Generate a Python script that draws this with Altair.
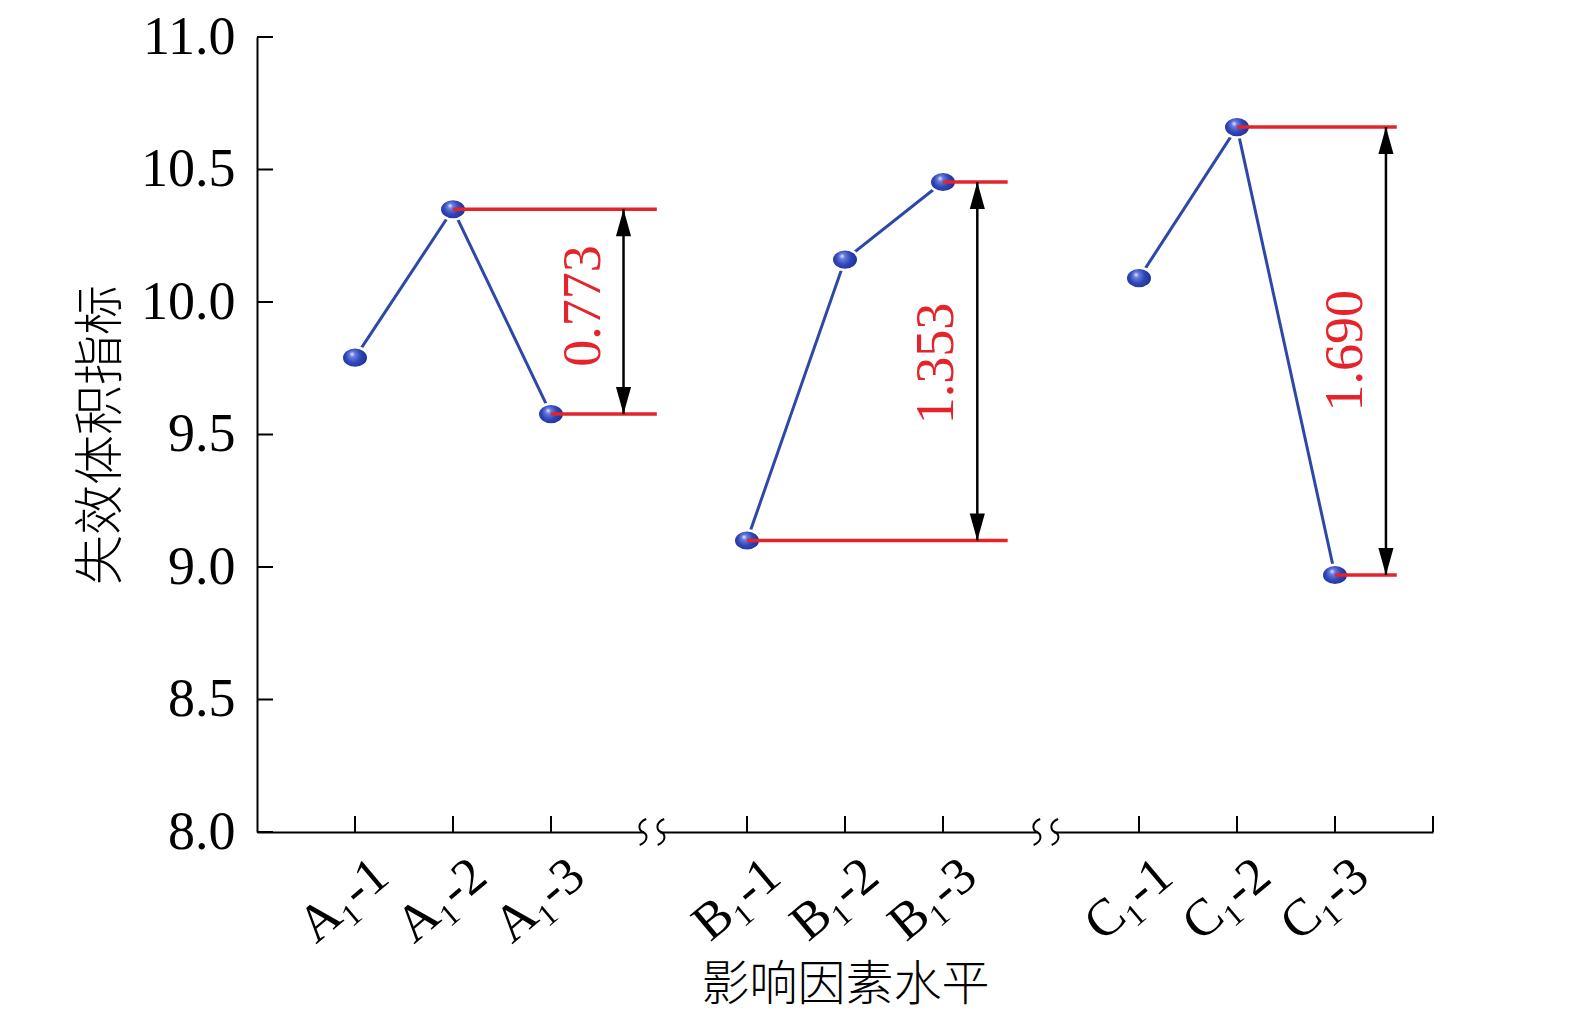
import altair as alt
import pandas as pd

# ---- data ----
labels = ["A₁-1", "A₁-2", "A₁-3", "B₁-1", "B₁-2", "B₁-3", "C₁-1", "C₁-2", "C₁-3"]
positions = [1, 2, 3, 5, 6, 7, 9, 10, 11]
groups = ["A", "A", "A", "B", "B", "B", "C", "C", "C"]
values = [9.79, 10.35, 9.577, 9.10, 10.16, 10.453, 10.09, 10.66, 8.97]

range_labels = ["0.773", "1.353", "1.690"]
range_hi = [10.35, 10.453, 10.66]
range_lo = [9.577, 9.10, 8.97]
hi_start = [2, 7, 10]
lo_start = [3, 5, 11]
line_end = [4.08, 7.66, 11.63]
arrow_x = [3.74, 7.35, 11.52]
text_x = [3.34, 6.94, 11.11]
text_y = [9.985, 9.768, 9.816]

y_ticks = [8.0, 8.5, 9.0, 9.5, 10.0, 10.5, 11.0]
x_ticks = [1, 2, 3, 5, 6, 7, 9, 10, 11, 12]
breaks = [4.03, 8.05]

pts = pd.DataFrame({"x": positions, "y": values, "g": groups, "label": labels})
red = pd.DataFrame({
    "x": hi_start + lo_start,
    "x2": line_end + line_end,
    "y": range_hi + range_lo,
})
arr = pd.DataFrame({"x": arrow_x, "hi": range_hi, "lo": range_lo})
txt = pd.DataFrame({"x": text_x, "y": text_y, "t": range_labels})
yt = pd.DataFrame({"y": y_ticks, "x": [0] * len(y_ticks)})
xt = pd.DataFrame({"x": x_ticks, "y": [8.0] * len(x_ticks)})
br = pd.DataFrame({"x": breaks, "y": [8.0] * len(breaks)})

lab_arr = [""] * 13
for p, l in zip(positions, labels):
    lab_arr[p] = l
label_expr = "[" + ",".join("'" + s + "'" for s in lab_arr) + "][datum.value]"

xs = alt.Scale(domain=[0, 12], nice=False, zero=False)
ys = alt.Scale(domain=[8, 11], nice=False, zero=False)

SERIF = "Liberation Serif"
CJK = "Noto Sans CJK SC"
RED = "#e5232b"
BLUE = "#2d48a8"

XAXIS = alt.Axis(
    values=positions, labelExpr=label_expr, ticks=False, grid=False,
    domainColor="black", domainWidth=2, labelAngle=320, labelAlign="right",
    labelBaseline="middle", labelFont=SERIF, labelFontSize=52, labelColor="black",
    labelOffset=26, labelPadding=36, title="影响因素水平", titleFont=CJK,
    titleFontSize=48, titleFontWeight=300, titleColor="black", titlePadding=10,
    labelOverlap=False, labelFlush=False)
YAXIS = alt.Axis(
    values=y_ticks, format=".1f", ticks=False, grid=False, domainColor="black",
    domainWidth=2, labelFont=SERIF, labelFontSize=54, labelColor="black",
    labelPadding=22, title="失效体积指标", titleFont=CJK, titleFontSize=50,
    titleFontWeight=300, titleColor="black", titlePadding=14,
    labelOverlap=False, labelFlush=False)


def X(f):
    return alt.X(f, scale=xs, axis=XAXIS)


def Y(f):
    return alt.Y(f, scale=ys, axis=YAXIS)


lines = alt.Chart(pts).mark_line(color=BLUE, strokeWidth=3).encode(
    x=X("x:Q"), y=Y("y:Q"), detail="g:N")

sphere_fill = {
    "gradient": "radial",
    "x1": 0.38, "y1": 0.36, "r1": 0,
    "x2": 0.5, "y2": 0.5, "r2": 0.62,
    "stops": [
        {"offset": 0, "color": "#f2f4ff"},
        {"offset": 0.16, "color": "#6a7ee0"},
        {"offset": 0.45, "color": "#3047b8"},
        {"offset": 1, "color": "#13207e"},
    ],
}
ellipse = "M-1,0 A1,0.78 0 1,0 1,0 A1,0.78 0 1,0 -1,0 Z"
spheres = alt.Chart(pts).mark_point(
    shape=ellipse, filled=True, fill=sphere_fill, size=700, opacity=1,
    stroke="white", strokeWidth=2.5, strokeOpacity=1
).encode(x=X("x:Q"), y=Y("y:Q"))

reds = alt.Chart(red).mark_rule(color=RED, strokeWidth=3.5).encode(
    x=X("x:Q"), x2="x2:Q", y=Y("y:Q"))

rules = alt.Chart(arr).mark_rule(color="black", strokeWidth=2.5).encode(
    x=X("x:Q"), y=Y("lo:Q"), y2="hi:Q")

up = alt.Chart(arr).mark_point(
    shape="M0,0 L-0.28,1 L0.28,1 Z", filled=True, color="black", size=2916, opacity=1
).encode(x=X("x:Q"), y=Y("hi:Q"))
down = alt.Chart(arr).mark_point(
    shape="M0,0 L-0.28,-1 L0.28,-1 Z", filled=True, color="black", size=2916, opacity=1
).encode(x=X("x:Q"), y=Y("lo:Q"))

texts = alt.Chart(txt).mark_text(
    angle=270, font=SERIF, fontSize=54, color=RED, align="center", baseline="middle"
).encode(x=X("x:Q"), y=Y("y:Q"), text="t:N")

ytk = alt.Chart(yt).mark_tick(orient="horizontal", size=16, thickness=2, color="black",
                              opacity=1, xOffset=8).encode(x=X("x:Q"), y=Y("y:Q"))
xtk = alt.Chart(xt).mark_tick(orient="vertical", size=16, thickness=2, color="black",
                              opacity=1, yOffset=-8).encode(x=X("x:Q"), y=Y("y:Q"))

gap = alt.Chart(br).mark_tick(orient="horizontal", size=16, thickness=5, color="white",
                              opacity=1).encode(x=X("x:Q"), y=Y("y:Q"))
squig = "M0.25,-1 C-0.45,-0.7 -0.35,-0.15 0,0 C0.35,0.15 0.45,0.7 -0.25,1"
sq1 = alt.Chart(br).mark_point(shape=squig, filled=False, stroke="black", strokeWidth=2,
                               size=676, opacity=1, xOffset=-9).encode(x=X("x:Q"), y=Y("y:Q"))
sq2 = alt.Chart(br).mark_point(shape=squig, filled=False, stroke="black", strokeWidth=2,
                               size=676, opacity=1, xOffset=9).encode(x=X("x:Q"), y=Y("y:Q"))

chart = alt.layer(lines, spheres, reds, rules, up, down, texts, ytk, xtk, gap, sq1, sq2).properties(
    width=1176, height=795,
    autosize=alt.AutoSizeParams(type="none"),
    padding={"left": 249, "top": 29, "right": 130, "bottom": 176},
    background="white",
).configure_view(stroke=None)

chart.save("out.html", embed_options={"renderer": "svg", "actions": False})
